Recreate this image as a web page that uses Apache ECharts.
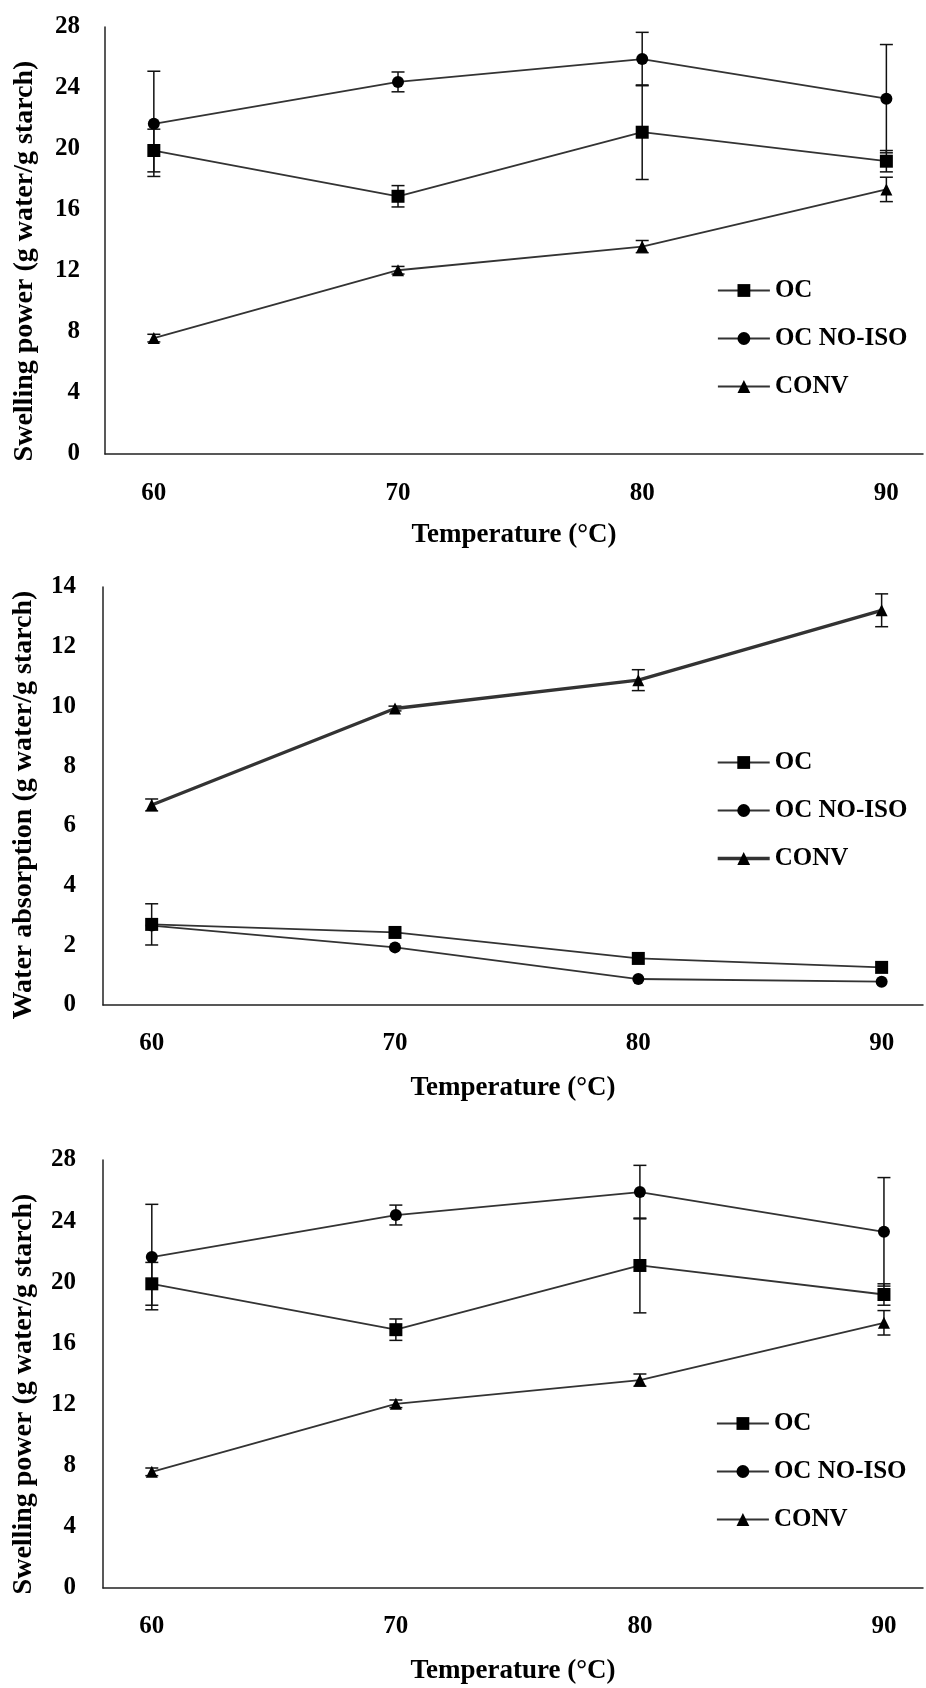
<!DOCTYPE html>
<html lang="en">
<head>
    <meta charset="UTF-8">
    <title>Swelling power / water absorption vs temperature</title>
    <script src="https://cdn.jsdelivr.net/npm/echarts@6/dist/echarts.min.js"></script>
    <style>
        html, body {
            margin: 0;
            padding: 0;
            background: #fff;
        }
        #chart {
            width: 926px;
            height: 1688px;
        }
    </style>
</head>
<body>
<div id="chart"></div>
<script>
    // temperatures (°C)
    var temps = [60, 70, 80, 90];
    var seriesNames = ["OC", "OC NO-ISO", "CONV"];

    // swelling power (g water/g starch) - panels 1 and 3
    var swellOC = [19.9, 16.9, 21.1, 19.2];
    var swellOCErr = [1.4, 0.7, 3.1, 0.7];
    var swellNoIso = [21.65, 24.4, 25.9, 23.3];
    var swellNoIsoErr = [3.45, 0.65, 1.75, 3.55];
    var swellConv = [7.6, 12.05, 13.6, 17.35];
    var swellConvErr = [0.25, 0.25, 0.4, 0.8];

    // water absorption (g water/g starch) - panel 2
    var waterOC = [2.7, 2.43, 1.56, 1.26];
    var waterOCErr = [0.69, 0, 0, 0];
    var waterNoIso = [2.66, 1.93, 0.87, 0.78];
    var waterNoIsoErr = [0, 0, 0, 0];
    var waterConv = [6.7, 9.93, 10.88, 13.22];
    var waterConvErr = [0.2, 0.08, 0.35, 0.55];

    var yTitles = ["Swelling power (g water/g starch)", "Water absorption (g water/g starch)", "Swelling power (g water/g starch)"];
    var xTitle = "Temperature (°C)";

    var FONT = "Liberation Serif";
    var symbols = ["rect", "circle", "triangle"];
    var symbolSizes = [13, 12, 12];

    // layout of the three panels
    var panels = [
        {grid: {left: 105, right: 0, top: 27, height: 427}, xMax: 91.5, yMax: 28, yInt: 4, labelMargin: 27, nameGap: 68, yLabelMargin: 25,
            legendTop: 273, legendLeft: 712, titleX: 25, titleY: 261,
            values: [swellOC, swellNoIso, swellConv], errs: [swellOCErr, swellNoIsoErr, swellConvErr], widths: [1.8, 1.8, 1.8]},
        {grid: {left: 103, right: 0, top: 587, height: 418}, xMax: 91.7, yMax: 14, yInt: 2, labelMargin: 26, nameGap: 70, yLabelMargin: 27,
            legendTop: 745, legendLeft: 711, titleX: 24, titleY: 805,
            values: [waterOC, waterNoIso, waterConv], errs: [waterOCErr, waterNoIsoErr, waterConvErr], widths: [1.8, 1.8, 3.4]},
        {grid: {left: 103, right: 0, top: 1160, height: 428}, xMax: 91.6, yMax: 28, yInt: 4, labelMargin: 26, nameGap: 70, yLabelMargin: 27,
            legendTop: 1406, legendLeft: 711, titleX: 24, titleY: 1394,
            values: [swellOC, swellNoIso, swellConv], errs: [swellOCErr, swellNoIsoErr, swellConvErr], widths: [1.8, 1.8, 1.8]}
    ];

    function errRender(params, api) {
        var x = api.value(0), lo = api.value(1), hi = api.value(2);
        if (hi - lo < 1e-9) return null;
        var a = api.coord([x, hi]), b = api.coord([x, lo]);
        var w = 6.5;
        var st = {stroke: "#111", lineWidth: 1.5};
        return {
            type: "group", children: [
                {type: "line", shape: {x1: a[0], y1: a[1], x2: b[0], y2: b[1]}, style: st},
                {type: "line", shape: {x1: a[0] - w, y1: a[1], x2: a[0] + w, y2: a[1]}, style: st},
                {type: "line", shape: {x1: b[0] - w, y1: b[1], x2: b[0] + w, y2: b[1]}, style: st}
            ]
        };
    }

    var grids = [], xAxes = [], yAxes = [], series = [], legends = [], graphics = [];

    panels.forEach(function (p, gi) {
        grids.push(p.grid);
        xAxes.push({
            type: "value", gridIndex: gi, min: 58, max: p.xMax, interval: 1,
            name: xTitle, nameLocation: "middle", nameGap: p.nameGap,
            nameTextStyle: {fontFamily: FONT, fontWeight: "bold", fontSize: 27, color: "#000"},
            axisLine: {lineStyle: {color: "#222", width: 1.5}},
            axisTick: {show: false},
            splitLine: {show: false},
            axisLabel: {
                margin: p.labelMargin, fontFamily: FONT, fontWeight: "bold", fontSize: 25, color: "#000",
                showMinLabel: true, showMaxLabel: true,
                formatter: function (v) {
                    return Math.abs(v % 10) < 1e-6 ? String(Math.round(v)) : "";
                }
            }
        });
        yAxes.push({
            type: "value", gridIndex: gi, min: 0, max: p.yMax, interval: p.yInt,
            axisLine: {show: true, lineStyle: {color: "#222", width: 1.5}},
            axisTick: {show: false},
            splitLine: {show: false},
            axisLabel: {margin: p.yLabelMargin, fontFamily: FONT, fontWeight: "bold", fontSize: 25, color: "#000"}
        });

        // error bars first, so markers sit on top
        p.values.forEach(function (vals, si) {
            series.push({
                type: "custom", xAxisIndex: gi, yAxisIndex: gi, silent: true,
                renderItem: errRender,
                encode: {x: 0, y: [1, 2]},
                data: temps.map(function (t, i) {
                    return [t, vals[i] - p.errs[si][i], vals[i] + p.errs[si][i]];
                })
            });
        });

        p.values.forEach(function (vals, si) {
            series.push({
                name: seriesNames[si], type: "line", xAxisIndex: gi, yAxisIndex: gi,
                symbol: symbols[si], symbolSize: symbolSizes[si],
                lineStyle: {color: "#333", width: p.widths[si]},
                itemStyle: {color: "#000"},
                emphasis: {disabled: true},
                z: 3,
                data: temps.map(function (t, i) { return [t, vals[i]]; })
            });
        });

        legends.push({
            orient: "vertical", left: p.legendLeft, top: p.legendTop,
            itemWidth: 52, itemHeight: 16, itemGap: 23,
            selectedMode: false,
            textStyle: {fontFamily: FONT, fontWeight: "bold", fontSize: 25, lineHeight: 25, color: "#000"},
            data: seriesNames.map(function (n, si) {
                return {name: n, lineStyle: {color: "#333", width: p.widths[si]}};
            })
        });

        graphics.push({
            type: "text", x: p.titleX, y: p.titleY, rotation: Math.PI / 2,
            style: {
                text: yTitles[gi], fill: "#000",
                font: "bold 28px \"" + FONT + "\"",
                align: "center", verticalAlign: "middle"
            }
        });
    });

    var myChart = echarts.init(document.getElementById("chart"));
    myChart.setOption({
        animation: false,
        backgroundColor: "#fff",
        grid: grids,
        xAxis: xAxes,
        yAxis: yAxes,
        legend: legends,
        graphic: graphics,
        series: series
    });
</script>
</body>
</html>
